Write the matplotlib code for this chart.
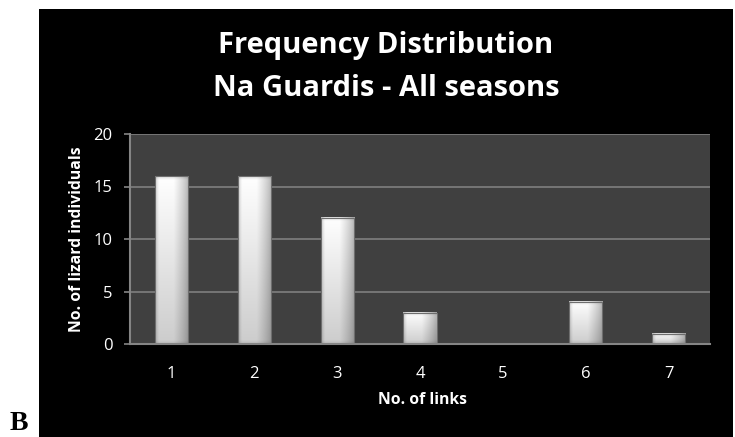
import numpy as np
import matplotlib
matplotlib.use("Agg")
import matplotlib.pyplot as plt
from matplotlib.patches import Rectangle

# Number of links per lizard and how many individuals have that many
links = [1, 2, 3, 4, 5, 6, 7]
counts = [16, 16, 12, 3, 0, 4, 1]
y_ticks = [0, 5, 10, 15, 20]
title_lines = ["Frequency Distribution", "Na Guardis - All seasons"]
x_label = "No. of links"
y_label = "No. of lizard individuals"
panel_letter = "B"

W, H = 735, 437
fig = plt.figure(figsize=(W / 100, H / 100), dpi=100)
fig.patch.set_facecolor("white")

# black chart frame
fig.patches.append(Rectangle((39 / W, 0), (733 - 39) / W, (H - 9) / H,
                             transform=fig.transFigure, facecolor="black",
                             edgecolor="none", zorder=0))

ax_l, ax_r, ax_t, ax_b = 130, 710, 134, 344
ax = fig.add_axes([ax_l / W, 1 - ax_b / H, (ax_r - ax_l) / W, (ax_b - ax_t) / H])
ax.set_zorder(2)
ax.set_facecolor("#404040")

ymax = y_ticks[-1]
bar_w = 0.4
px_per_x = (ax_r - ax_l) / (len(links))
px_per_y = (ax_b - ax_t) / ymax


def bar_image(w_px, h_px):
    """Shaded, bevelled bar texture."""
    nx = max(int(round(w_px)) * 3, 6)
    ny = max(int(round(h_px)) * 3, 6)
    u = (np.arange(nx) + 0.5) / nx
    v = (np.arange(ny) + 0.5) / ny  # 0 = top row
    U, V = np.meshgrid(u, v)
    dl = U * w_px
    dt = V * h_px
    db = (1 - V) * h_px
    # horizontal: bright quickly from the left, slow fade to the right
    left = 0.82 + 0.18 * np.clip(dl / 4.0, 0, 1)
    right = 0.74 + 0.26 * np.clip((1 - U - 0.05) / 0.4, 0, 1) ** 0.8
    horiz = np.minimum(left, right)
    # vertical: white at the top, greyer towards the base
    vert = 1.0 - 0.2 * V
    # soft bevel along the top and bottom
    top = 0.86 + 0.14 * np.clip(dt / 4.0, 0, 1)
    bot = 0.9 + 0.1 * np.clip(db / 4.0, 0, 1)
    shade = np.clip(horiz * vert * top * bot, 0, 1)
    return np.dstack([shade, shade, shade])


for x, c in zip(links, counts):
    if c <= 0:
        continue
    img = bar_image(bar_w * px_per_x, c * px_per_y)
    ax.imshow(img, extent=[x - bar_w / 2, x + bar_w / 2, 0, c],
              aspect="auto", interpolation="bilinear", zorder=3)
    ax.add_patch(Rectangle((x - bar_w / 2, 0), bar_w, c, fill=False,
                           edgecolor="#6e6e6e", linewidth=0.8, zorder=3.5))

ax.set_xlim(0.5, len(links) + 0.5)
ax.set_ylim(0, ymax)
ax.set_yticks(y_ticks)
ax.set_xticks(links)
ax.set_xticklabels([str(l) for l in links])
ax.yaxis.grid(True, color="#858585", linewidth=1.1, zorder=1)
ax.set_axisbelow(True)

for s in ["top", "right"]:
    ax.spines[s].set_visible(False)
for s in ["left", "bottom"]:
    ax.spines[s].set_color("#858585")
    ax.spines[s].set_linewidth(1.5)
    ax.spines[s].set_zorder(4)

font = "Open Sans"
ax.tick_params(axis="y", colors="#858585", length=4.5, width=1.2, labelcolor="white",
               labelsize=12, pad=8)
ax.tick_params(axis="x", length=0, labelcolor="white", labelsize=12, pad=16)
for lab in ax.get_xticklabels() + ax.get_yticklabels():
    lab.set_fontfamily(font)

fig.text(422 / W, 1 - 400 / H, x_label, color="white", fontsize=11.3,
         fontweight="bold", family=font, ha="center", va="center")
fig.text(77 / W, 1 - 239 / H, y_label, color="white", fontsize=11.3,
         fontweight="bold", family=font, ha="center", va="center", rotation=90)

fig.text(386 / W, 1 - 45 / H, title_lines[0], color="white", fontsize=21,
         fontweight="bold", family=font, ha="center", va="center")
fig.text(386 / W, 1 - 88 / H, title_lines[1], color="white", fontsize=21,
         fontweight="bold", family=font, ha="center", va="center")

fig.text(18.5 / W, 1 - 423 / H, panel_letter, color="black", fontsize=20,
         fontweight="bold", family="Liberation Serif", ha="center", va="center")

fig.savefig("out.png", dpi=100, facecolor=fig.get_facecolor())
